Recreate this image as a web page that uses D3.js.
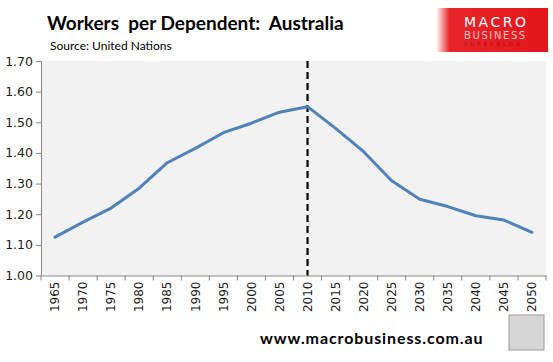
<!DOCTYPE html>
<html><head><meta charset="utf-8">
<script src="https://cdn.jsdelivr.net/npm/d3@7"></script>
<style>body{margin:0;background:#fff}svg{display:block}</style>
</head><body><svg id="c" width="553" height="362"></svg>
<script>
const years = ["1965","1970","1975","1980","1985","1990","1995","2000","2005","2010","2015","2020","2025","2030","2035","2040","2045","2050"];
const workersPerDependent = [1.125,1.174,1.22,1.285,1.368,1.415,1.466,1.497,1.533,1.551,1.480,1.404,1.309,1.249,1.225,1.195,1.181,1.141];
const yTicks = [1.00,1.10,1.20,1.30,1.40,1.50,1.60,1.70];
const markerYear = "2010";
const title = "Workers  per Dependent:  Australia";
const source = "Source: United Nations";
const footer = "www.macrobusiness.com.au";

const svg = d3.select("#c");
const L = 41, R = 546, T = 61, B = 275.5;
const x = d3.scaleBand().domain(years).range([L, R]);
const y = d3.scaleLinear().domain([1.0, 1.7]).range([B, T]);

svg.append("rect").attr("x", L).attr("y", T).attr("width", R - L).attr("height", B - T).attr("fill", "#f2f2f2");

// y axis
const ya = svg.append("g").attr("transform", `translate(${L},0)`)
  .call(d3.axisLeft(y).tickValues(yTicks).tickFormat(d3.format(".2f")).tickSize(5).tickSizeOuter(0));
ya.select(".domain").attr("stroke", "#868686");
ya.selectAll(".tick line").attr("stroke", "#868686");
ya.selectAll("text").attr("font-family", "Tahoma, 'DejaVu Sans', sans-serif").attr("font-size", 12.5).attr("fill", "#222").attr("x", -8);

// x axis
const xa = svg.append("g").attr("transform", `translate(0,${B})`)
  .call(d3.axisBottom(x).tickSize(0).tickSizeOuter(0));
xa.select(".domain").attr("stroke", "#868686");
xa.selectAll(".tick text").attr("font-family", "Tahoma, 'DejaVu Sans', sans-serif").attr("font-size", 12).attr("fill", "#222")
  .attr("transform", "rotate(-90)").attr("text-anchor", "end").attr("x", -6).attr("y", 0).attr("dy", "0.35em");
// category boundary ticks
const bounds = years.map(d => x(d)).concat([R]);
svg.append("g").selectAll("line").data(bounds).join("line")
  .attr("x1", d => d).attr("x2", d => d).attr("y1", B).attr("y2", B + 5).attr("stroke", "#868686");

// dashed marker
const mx = x(markerYear) + x.bandwidth() / 2;
svg.append("line").attr("x1", mx).attr("x2", mx).attr("y1", T).attr("y2", B)
  .attr("stroke", "#000").attr("stroke-width", 2.2).attr("stroke-dasharray", "7,4");

// line
const line = d3.line().x((d, i) => x(years[i]) + x.bandwidth() / 2).y(d => y(d));
svg.append("path").datum(workersPerDependent).attr("d", line).attr("fill", "none")
  .attr("stroke", "#4f81bd").attr("stroke-width", 3).attr("stroke-linejoin", "round").attr("stroke-linecap", "round");

// titles
svg.append("text").attr("x", 47).attr("y", 30).text(title)
  .attr("font-family", "Lato, 'Open Sans', sans-serif").attr("font-weight", "bold").attr("font-size", 19).attr("fill", "#000")
  .style("white-space", "pre").attr("xml:space", "preserve");
svg.append("text").attr("x", 50).attr("y", 50).text(source)
  .attr("font-family", "Lato, 'Open Sans', sans-serif").attr("font-size", 12).attr("fill", "#000");
svg.append("text").attr("x", 260).attr("y", 344).text(footer)
  .attr("font-family", "Lato, 'Open Sans', sans-serif").attr("font-weight", "bold").attr("font-size", 16).attr("letter-spacing", 0.9).attr("fill", "#000");

// logo
const defs = svg.append("defs");
const g = defs.append("linearGradient").attr("id", "lg").attr("x1", "0").attr("x2", "1");
g.append("stop").attr("offset", "0").attr("stop-color", "#fff");
g.append("stop").attr("offset", "0.12").attr("stop-color", "#e8252a");
g.append("stop").attr("offset", "1").attr("stop-color", "#e3161c");
svg.append("rect").attr("x", 436).attr("y", 8).attr("width", 112).attr("height", 44).attr("fill", "url(#lg)");
svg.append("text").attr("x", 464).attr("y", 27).text("MACRO").attr("font-family", "'DejaVu Sans', sans-serif")
  .attr("font-size", 14).attr("letter-spacing", 2.5).attr("fill", "#fff");
svg.append("text").attr("x", 464).attr("y", 39).text("BUSINESS").attr("font-family", "'DejaVu Sans', sans-serif")
  .attr("font-size", 10).attr("letter-spacing", 1.6).attr("fill", "#f6c3c3");
svg.append("text").attr("x", 464).attr("y", 46).text("SUPERBLOG").attr("font-family", "'DejaVu Sans', sans-serif")
  .attr("font-size", 5).attr("letter-spacing", 3.2).attr("fill", "#a01014");

// wolf box placeholder
svg.append("rect").attr("x", 509).attr("y", 315).attr("width", 35).attr("height", 35).attr("fill", "#d6d6d6").attr("stroke", "#999");
</script></body></html>
